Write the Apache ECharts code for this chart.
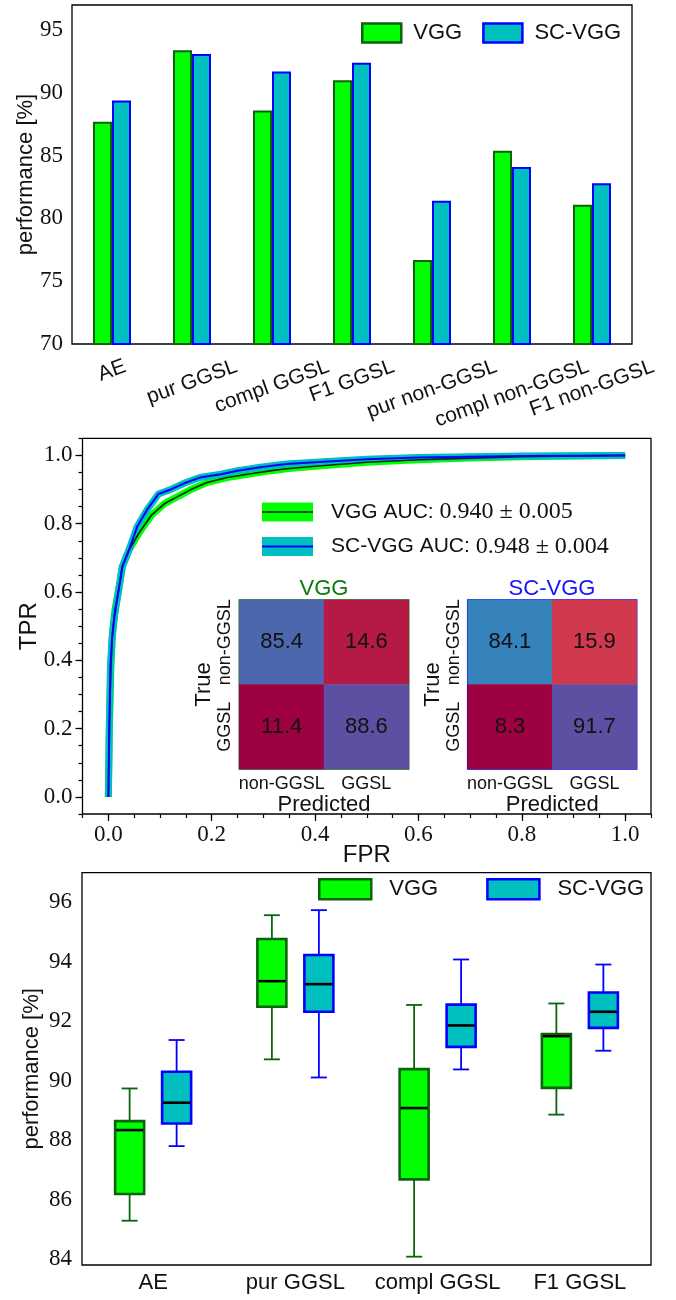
<!DOCTYPE html>
<html>
<head>
<meta charset="utf-8">
<script src="https://cdn.jsdelivr.net/npm/echarts@6/dist/echarts.min.js"></script>
<style>
  html, body { margin: 0; padding: 0; background: #fff; }
  #chart { width: 676px; height: 1300px; }
</style>
</head>
<body>
<div id="chart"></div>
<script>
// --- bar chart (top) ---
var barCategories = ['AE', 'pur GGSL', 'compl GGSL', 'F1 GGSL', 'pur non-GGSL', 'compl non-GGSL', 'F1 non-GGSL'];
var barVgg = [87.7, 93.4, 88.6, 91.0, 76.7, 85.4, 81.1];
var barScVgg = [89.4, 93.1, 91.7, 92.4, 81.4, 84.1, 82.8];
var barTicks = [70, 75, 80, 85, 90, 95];

// --- ROC curves (middle) ---
var rocVggFpr = [0, 0.002, 0.005, 0.008, 0.013, 0.021, 0.027, 0.04, 0.059, 0.084, 0.11, 0.135, 0.161, 0.192, 0.23, 0.275, 0.319, 0.345, 0.4, 0.5, 0.6, 0.7, 0.8, 0.9, 1.0];
var rocVggTpr = [0, 0.2, 0.38, 0.48, 0.55, 0.616, 0.674, 0.723, 0.772, 0.826, 0.86, 0.88, 0.901, 0.921, 0.935, 0.946, 0.956, 0.961, 0.968, 0.98, 0.987, 0.992, 0.996, 0.998, 1.0];
var rocScFpr = [0, 0.002, 0.004, 0.007, 0.012, 0.018, 0.027, 0.04, 0.056, 0.075, 0.097, 0.122, 0.148, 0.177, 0.218, 0.25, 0.294, 0.345, 0.4, 0.5, 0.6, 0.7, 0.8, 0.9, 1.0];
var rocScTpr = [0, 0.22, 0.38, 0.46, 0.53, 0.587, 0.674, 0.723, 0.792, 0.841, 0.887, 0.901, 0.919, 0.935, 0.945, 0.955, 0.965, 0.975, 0.98, 0.989, 0.994, 0.996, 0.998, 0.999, 1.0];
var rocTicks = [0, 0.2, 0.4, 0.6, 0.8, 1.0];
var aucVgg = '0.940 ± 0.005';
var aucScVgg = '0.948 ± 0.004';

// --- confusion matrices (rows: true, cols: predicted) ---
var cmClasses = ['non-GGSL', 'GGSL'];
var cmVgg = [[85.4, 14.6], [11.4, 88.6]];
var cmScVgg = [[84.1, 15.9], [8.3, 91.7]];

// --- box plot (bottom): [min, q1, median, q3, max] ---
var boxCategories = ['AE', 'pur GGSL', 'compl GGSL', 'F1 GGSL'];
var boxVgg = [
  [85.29, 86.19, 88.34, 88.64, 89.74],
  [90.72, 92.49, 93.35, 94.77, 95.57],
  [84.08, 86.68, 89.08, 90.39, 92.55],
  [88.86, 89.76, 91.50, 91.57, 92.60]
];
var boxScVgg = [
  [87.80, 88.56, 89.26, 90.30, 91.37],
  [90.11, 92.32, 93.25, 94.23, 95.74],
  [90.38, 91.14, 91.86, 92.56, 94.08],
  [91.01, 91.78, 92.32, 92.97, 93.91]
];
var boxTicks = [84, 86, 88, 90, 92, 94, 96];

var GREEN = '#00ff00', DKGREEN = '#0b640b', CYAN = '#00bfbf', BLUE = '#0000ff';
var SANS = '"Liberation Sans", Arial, sans-serif';
var SERIF = '"Liberation Serif", "Times New Roman", serif';
var SPECTRAL = ['#9e0142', '#d53e4f', '#f46d43', '#fdae61', '#fee08b', '#ffffbf',
  '#e6f598', '#abdda4', '#66c2a5', '#3288bd', '#5e4fa2'];

var rocMinorTicks = [];
for (var k = -1; k <= 21; k++) rocMinorTicks.push(+(k * 0.05).toFixed(2));

function zip(xs, ys) {
  return xs.map(function (x, i) { return [x, ys[i]]; });
}
function cmData(m) {
  var out = [];
  m.forEach(function (row, r) {
    row.forEach(function (v, c) { out.push([c, r, v]); });
  });
  return out;
}
function flat(m) { return [].concat.apply([], m); }

var serifLabel = { fontFamily: SERIF, fontSize: 23, color: '#111' };
var tickStyle = { color: '#000', width: 1.2 };
var noLine = { show: false, onZero: false };

function majorValueAxis(grid, min, max, ticks, fmt, margin, extra) {
  var ax = {
    type: 'value', gridIndex: grid, min: min, max: max,
    axisLine: noLine, splitLine: { show: false },
    axisTick: { customValues: ticks, length: 7, lineStyle: tickStyle },
    axisLabel: Object.assign({ customValues: ticks, margin: margin, formatter: fmt }, serifLabel),
    nameMoveOverlap: false
  };
  return Object.assign(ax, extra || {});
}
function minorValueAxis(grid, min, max, pos, opt) {
  return Object.assign({
    type: 'value', gridIndex: grid, min: min, max: max, position: pos,
    axisLine: noLine, splitLine: { show: false },
    axisLabel: { show: false },
    axisTick: { length: 4, lineStyle: tickStyle }
  }, opt);
}
function cmXAxis(grid) {
  return {
    type: 'category', gridIndex: grid, data: cmClasses,
    axisLine: noLine, splitLine: { show: false },
    axisTick: { alignWithLabel: true, length: 4, lineStyle: tickStyle },
    axisLabel: { interval: 0, fontFamily: SANS, fontSize: 18, color: '#111', margin: 6 },
    name: 'Predicted', nameLocation: 'middle', nameGap: 22,
    nameTextStyle: { fontFamily: SANS, fontSize: 22, color: '#111' }
  };
}
function cmYAxis(grid) {
  return {
    type: 'category', gridIndex: grid, data: cmClasses, inverse: true, position: 'left',
    axisLine: noLine, splitLine: { show: false },
    axisTick: { alignWithLabel: true, length: 4, lineStyle: tickStyle },
    axisLabel: { interval: 0, fontFamily: SANS, fontSize: 18, color: '#111', margin: 5, rotate: 90 },
    name: 'True', nameLocation: 'middle', nameGap: 24, nameRotate: 90,
    nameTextStyle: { fontFamily: SANS, fontSize: 22, color: '#111' }
  };
}

function boxRenderer(offset, fill, stroke) {
  return function (params, api) {
    var cat = api.value(0);
    var pMin = api.coord([cat, api.value(1)]);
    var x = pMin[0] + offset;
    var yMin = pMin[1];
    var yQ1 = api.coord([cat, api.value(2)])[1];
    var yMed = api.coord([cat, api.value(3)])[1];
    var yQ3 = api.coord([cat, api.value(4)])[1];
    var yMax = api.coord([cat, api.value(5)])[1];
    var half = 14.5, cap = 8;
    var thin = { stroke: stroke, lineWidth: 1.8 };
    return {
      type: 'group',
      children: [
        { type: 'line', shape: { x1: x, y1: yMin, x2: x, y2: yQ1 }, style: thin },
        { type: 'line', shape: { x1: x, y1: yQ3, x2: x, y2: yMax }, style: thin },
        { type: 'line', shape: { x1: x - cap, y1: yMin, x2: x + cap, y2: yMin }, style: thin },
        { type: 'line', shape: { x1: x - cap, y1: yMax, x2: x + cap, y2: yMax }, style: thin },
        { type: 'rect', shape: { x: x - half, y: yQ3, width: 2 * half, height: yQ1 - yQ3 },
          style: { fill: fill, stroke: stroke, lineWidth: 2.6 } },
        { type: 'line', shape: { x1: x - half + 1, y1: yMed, x2: x + half - 1, y2: yMed },
          style: { stroke: '#000', lineWidth: 2.6 } }
      ]
    };
  };
}

var legendText = { fontFamily: SANS, fontSize: 22, color: '#111' };

var chart = echarts.init(document.getElementById('chart'), null, { renderer: 'canvas' });

chart.setOption({
  animation: false,
  backgroundColor: '#fff',
  grid: [
    { left: 72, top: 5, width: 560, height: 339, show: true, borderColor: '#000', borderWidth: 1.3 },
    { left: 82.5, top: 438.3, width: 568.5, height: 375.7, show: true, borderColor: '#000', borderWidth: 1.3 },
    { left: 239.3, top: 600, width: 169.4, height: 169, show: true, borderColor: DKGREEN, borderWidth: 1.5 },
    { left: 467.7, top: 600, width: 169, height: 169, show: true, borderColor: BLUE, borderWidth: 1.5 },
    { left: 82, top: 872.7, width: 569, height: 392.3, show: true, borderColor: '#000', borderWidth: 1.3 }
  ],
  legend: [
    {
      data: [
        { name: 'VGG', itemStyle: { color: GREEN, borderColor: DKGREEN, borderWidth: 2.5 } },
        { name: 'SC-VGG', itemStyle: { color: CYAN, borderColor: BLUE, borderWidth: 2.5 } }
      ],
      left: 361, top: 22, padding: 0, icon: 'rect', selectedMode: false,
      itemWidth: 39, itemHeight: 19, itemGap: 20,
      textStyle: Object.assign({ padding: [0, 0, 0, 7] }, legendText)
    },
    {
      data: [
        { name: 'VGG', itemStyle: { color: GREEN, borderColor: DKGREEN, borderWidth: 2.5 } },
        { name: 'SC-VGG', itemStyle: { color: CYAN, borderColor: BLUE, borderWidth: 2.5 } }
      ],
      left: 318, top: 878, padding: 0, icon: 'rect', selectedMode: false,
      itemWidth: 52, itemHeight: 20, itemGap: 48,
      textStyle: Object.assign({ padding: [0, 0, 0, 13] }, legendText)
    }
  ],
  xAxis: [
    {
      type: 'category', gridIndex: 0, data: barCategories,
      axisLine: noLine,
      axisTick: { alignWithLabel: true, length: 6, lineStyle: tickStyle },
      axisLabel: { show: false }
    },
    majorValueAxis(1, -0.05, 1.05, rocTicks, function (v) { return v.toFixed(1); }, 9, {
      position: 'bottom',
      name: 'FPR', nameLocation: 'middle', nameGap: 29,
      nameTextStyle: { fontFamily: SANS, fontSize: 24, color: '#111' }
    }),
    minorValueAxis(1, -0.05, 1.05, 'bottom', { axisTick: { customValues: rocMinorTicks, length: 4, lineStyle: tickStyle } }),
    cmXAxis(2),
    cmXAxis(3),
    {
      type: 'category', gridIndex: 4, data: boxCategories,
      axisLine: noLine,
      axisTick: { alignWithLabel: true, length: 6, lineStyle: tickStyle },
      axisLabel: { interval: 0, fontFamily: SANS, fontSize: 22, color: '#111', margin: 7 }
    }
  ],
  yAxis: [
    majorValueAxis(0, 70, 97, barTicks, null, 9, {
      position: 'left',
      name: 'performance [%]', nameLocation: 'middle', nameGap: 35,
      nameTextStyle: { fontFamily: SANS, fontSize: 22, color: '#111' }
    }),
    minorValueAxis(0, 70, 97, 'left', { interval: 1 }),
    majorValueAxis(1, -0.05, 1.05, rocTicks, function (v) { return v.toFixed(1); }, 10, {
      position: 'left',
      name: 'TPR', nameLocation: 'middle', nameGap: 41,
      nameTextStyle: { fontFamily: SANS, fontSize: 24, color: '#111' }
    }),
    minorValueAxis(1, -0.05, 1.05, 'left', { axisTick: { customValues: rocMinorTicks, length: 4, lineStyle: tickStyle } }),
    cmYAxis(2),
    cmYAxis(3),
    majorValueAxis(4, 83.8, 97, boxTicks, null, 10, {
      position: 'left',
      name: 'performance [%]', nameLocation: 'middle', nameGap: 39,
      nameTextStyle: { fontFamily: SANS, fontSize: 22, color: '#111' }
    })
  ],
  visualMap: [
    { show: false, seriesIndex: 6, dimension: 2, min: Math.min.apply(null, flat(cmVgg)),
      max: Math.max.apply(null, flat(cmVgg)), inRange: { color: SPECTRAL } },
    { show: false, seriesIndex: 7, dimension: 2, min: Math.min.apply(null, flat(cmScVgg)),
      max: Math.max.apply(null, flat(cmScVgg)), inRange: { color: SPECTRAL } }
  ],
  series: [
    {
      name: 'VGG', type: 'bar', xAxisIndex: 0, yAxisIndex: 0, data: barVgg,
      barWidth: 19, barGap: '0%',
      itemStyle: { color: GREEN, borderColor: DKGREEN, borderWidth: 2 }
    },
    {
      name: 'SC-VGG', type: 'bar', xAxisIndex: 0, yAxisIndex: 0, data: barScVgg,
      barWidth: 19, barGap: '0%',
      itemStyle: { color: CYAN, borderColor: BLUE, borderWidth: 2 }
    },
    {
      name: 'VGG band', type: 'line', xAxisIndex: 1, yAxisIndex: 2, data: zip(rocVggFpr, rocVggTpr),
      symbol: 'none', silent: true, lineStyle: { color: GREEN, width: 7 }
    },
    {
      name: 'SC-VGG band', type: 'line', xAxisIndex: 1, yAxisIndex: 2, data: zip(rocScFpr, rocScTpr),
      symbol: 'none', silent: true, lineStyle: { color: CYAN, width: 7 }
    },
    {
      name: 'VGG ROC', type: 'line', xAxisIndex: 1, yAxisIndex: 2, data: zip(rocVggFpr, rocVggTpr),
      symbol: 'none', silent: true, lineStyle: { color: '#0a2a0a', width: 1.6 }
    },
    {
      name: 'SC-VGG ROC', type: 'line', xAxisIndex: 1, yAxisIndex: 2, data: zip(rocScFpr, rocScTpr),
      symbol: 'none', silent: true, lineStyle: { color: BLUE, width: 2 }
    },
    {
      name: 'cm VGG', type: 'heatmap', xAxisIndex: 3, yAxisIndex: 4, data: cmData(cmVgg),
      label: { show: true, fontFamily: SANS, fontSize: 22, color: '#111',
        formatter: function (p) { return p.value[2].toFixed(1); } }
    },
    {
      name: 'cm SC-VGG', type: 'heatmap', xAxisIndex: 4, yAxisIndex: 5, data: cmData(cmScVgg),
      label: { show: true, fontFamily: SANS, fontSize: 22, color: '#111',
        formatter: function (p) { return p.value[2].toFixed(1); } }
    },
    {
      name: 'VGG', type: 'custom', xAxisIndex: 5, yAxisIndex: 6,
      data: boxVgg.map(function (b, i) { return [i].concat(b); }),
      encode: { x: 0, y: [1, 2, 3, 4, 5] },
      itemStyle: { color: GREEN },
      renderItem: boxRenderer(-23.5, GREEN, DKGREEN)
    },
    {
      name: 'SC-VGG', type: 'custom', xAxisIndex: 5, yAxisIndex: 6,
      data: boxScVgg.map(function (b, i) { return [i].concat(b); }),
      encode: { x: 0, y: [1, 2, 3, 4, 5] },
      itemStyle: { color: CYAN },
      renderItem: boxRenderer(23.5, CYAN, BLUE)
    }
  ]
});

// rotated category labels for the bar chart, centred on each tick
var ctx = document.createElement('canvas').getContext('2d');
ctx.font = '21px ' + SANS;
var rot = 20 * Math.PI / 180;
var graphics = [];
barCategories.forEach(function (name, i) {
  var px = chart.convertToPixel({ xAxisIndex: 0 }, name);
  var w = ctx.measureText(name).width;
  var cy = 356 + (w * Math.sin(rot) + 21 * Math.cos(rot)) / 2;
  graphics.push({
    type: 'text', x: px, y: cy, rotation: rot, silent: true,
    style: { text: name, fontFamily: SANS, fontSize: 21, fill: '#111', align: 'center', verticalAlign: 'middle' }
  });
});

// matrix titles
graphics.push({
  type: 'text', x: 324, y: 589, silent: true,
  style: { text: 'VGG', fontFamily: SANS, fontSize: 22, fill: '#0d7a0d', align: 'center', verticalAlign: 'middle' }
});
graphics.push({
  type: 'text', x: 552, y: 589, silent: true,
  style: { text: 'SC-VGG', fontFamily: SANS, fontSize: 22, fill: '#1414ff', align: 'center', verticalAlign: 'middle' }
});

// ROC legend
function rocLegend(y, band, line, lineW, label, auc) {
  graphics.push({ type: 'rect', shape: { x: 262, y: y - 9.5, width: 51, height: 19 }, style: { fill: band }, silent: true });
  graphics.push({ type: 'line', shape: { x1: 262, y1: y, x2: 313, y2: y }, style: { stroke: line, lineWidth: lineW }, silent: true });
  graphics.push({
    type: 'text', x: 331, y: y, silent: true,
    style: {
      text: '{a|' + label + ' }{b|' + auc + '}',
      align: 'left', verticalAlign: 'middle',
      rich: {
        a: { fontFamily: SANS, fontSize: 21, fill: '#111' },
        b: { fontFamily: SERIF, fontSize: 24, fill: '#111' }
      }
    }
  });
}
rocLegend(512, GREEN, '#0a2a0a', 1.6, 'VGG AUC:', aucVgg);
rocLegend(546.5, CYAN, BLUE, 2, 'SC-VGG AUC:', aucScVgg);

chart.setOption({ graphic: graphics });
</script>
</body>
</html>
